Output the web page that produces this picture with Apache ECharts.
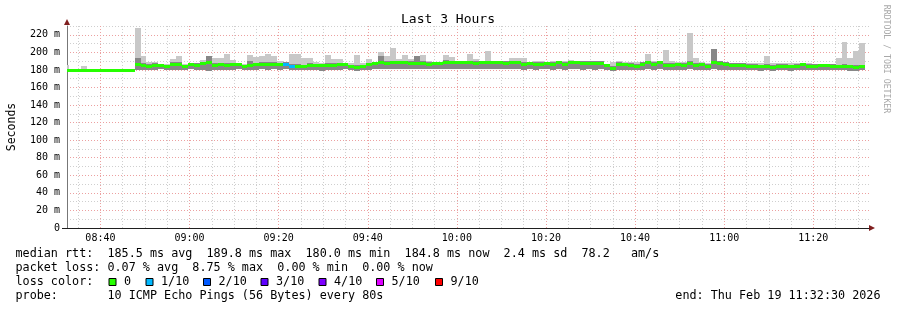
<!DOCTYPE html>
<html><head><meta charset="utf-8">
<script src="https://cdn.jsdelivr.net/npm/echarts@6/dist/echarts.min.js"></script>
<style>html,body{margin:0;padding:0;background:#fff}#c{width:897px;height:310px}</style>
</head><body><div id="c"></div>
<script>
// ---------------- data ----------------
const stepSeconds = 80;
const firstStepStart = '08:31:40';
const axisStart = '08:32:30';
const axisEnd = '11:32:30';
const timeLabels = ['08:40','09:00','09:20','09:40','10:00','10:20','10:40','11:00','11:20'];
const yLabelValues = [0,20,40,60,80,100,120,140,160,180,200,220];

const medianRtt = [180,180,180,180,180,180,180,180,180,180,180,180,
 186.5,185.3,184.6,185.7,185.3,184.6,186.5,186.5,184.2,186.5,
 185.7,188.0,188.7,185.7,186.5,185.7,186.5,186.8,184.2,185.7,
 186.5,186.8,186.8,187.2,186.5,187.0,184.0,184.9,184.2,185.7,
 185.3,185.7,185.7,185.7,186.5,187.2,184.2,183.4,184.2,186.5,
 188.0,188.7,188.0,188.7,188.7,188.7,188.0,188.0,188.0,187.2,
 188.0,188.0,189.5,188.7,188.7,188.7,188.7,188.0,188.7,188.7,
 188.7,188.7,188.0,188.7,188.7,186.5,188.0,186.5,187.2,188.0,
 186.5,188.7,187.2,188.7,189.0,188.0,188.0,188.0,188.0,185.7,
 181.9,186.5,186.5,185.7,184.9,187.2,188.7,187.2,188.7,185.7,
 185.7,186.5,185.7,188.0,185.7,186.5,184.9,188.7,188.0,187.2,
 185.7,185.7,185.7,184.9,184.9,184.2,184.9,183.4,184.9,184.9,
 184.2,184.9,186.5,184.9,184.9,185.7,185.7,184.9,184.2,184.2,
 184.2,183.4,184.2];

const maxRtt = [186,180,180,184,180,180,180,180,180,180,180,180,
 228,196,189,189.5,187,187,192,195.6,187,188,
 188,191.4,195.6,193,193,198,191,188,187,197,
 195,195.6,198,195.6,190,189.5,198,198,194,194,
 189,188,197,192.5,192.5,188,188,197,188,192,
 189.5,200,195.6,205.5,192,197,192,195.6,197,190.5,
 189.5,189.5,197,194.7,190.5,190.5,198.6,192.5,190.5,201.7,
 190.5,190,190,194,194,194,189.5,190,190,188.7,
 190,190,190,190.8,190,190,190,190,190,186.5,
 188.7,190,188.7,188.7,189.5,188.7,198.6,190,190,202.4,
 190,188.7,188.7,221.5,193,189.5,188,204,190,188.7,
 188,188,188,188,188,188,195.6,188,188,188,
 188,188,188,188,186.5,186.5,186.5,186.5,194,212,
 194,202,211];

const upperQuartRtt = [180,180,180,180,180,180,180,180,180,180,180,180,
 193,188,187,187.5,186.5,186,188.5,189,186,188,
 187.5,189.5,195.6,188,188,188,188,188,186,190,
 188,189,189,189,188,188.5,187,187,186,187.5,
 187,187,188,187.5,188,188,186,185.5,186,188,
 189.5,195.6,190,190.5,190.5,190.5,190,195.6,190,189,
 189.5,189.5,191,190.5,190,190,190.5,190,190.5,190.5,
 190.5,190,190,190.5,190.5,188.5,189.5,188.5,189,188.7,
 188.5,190,189,190.5,190,190,190,190,190,186.5,
 185,188.5,188,187.5,187,188.7,190.5,189,190,187.5,
 187.5,188,187.5,190,187.5,188,187,204,190,188.7,
 187.5,187.5,187.5,187,187,186,187,185.5,187,187,
 186,187,188,187,186.5,186.5,186.5,186.5,186,186.5,
 186,185.5,186];

const minRtt = [180,180,180,180,180,180,180,180,180,180,180,180,
 179.5,180,179.5,180,180.5,179.5,180,179.5,179.5,180.5,
 180,180,179,179.5,180,179.5,180,180.5,179.5,179.5,
 180,180.5,179.5,180.5,180,180.5,179.5,179.5,179.5,180,
 179.5,179,179.5,179.5,179.5,180.5,179.5,179,179.5,180,
 180.5,181,180.5,180.5,181,181,180.5,180.5,181,180.5,
 180.5,181,181.5,181,180.5,181,181,180.5,181.5,181,
 181,180.5,181,180.5,180.5,180,180.5,180,180.5,180.5,
 180,180.5,180,180.5,180.5,180,180.5,180,180.5,179.5,
 179,179.5,179.5,179.5,179.5,180,180.5,180,180.5,179.5,
 179.5,180,179.5,180.5,179.5,180,179.5,180.5,180,179.5,
 179.5,179.5,179.5,179.5,179.5,179,179.5,179,179.5,179.5,
 179,179.5,179.5,179.5,179.5,179.5,179.5,179.5,179.5,179.5,
 179,179,179.5];

const lossTenths = [0,0,0,0,0,0,0,0,0,0,0,0,
 0,0,0,0,0,0,0,0,0,0,
 0,0,0,0,0,0,0,0,0,0,
 0,0,0,0,0,1,1,0,0,0,
 0,0,0,0,0,0,0,0,0,0,
 0,0,0,0,0,0,0,0,0,0,
 0,0,0,0,0,0,0,0,0,0,
 0,0,0,0,0,0,0,0,0,0,
 0,0,0,0,0,0,0,0,0,0,
 0,0,0,0,0,0,0,0,0,0,
 0,0,0,0,0,0,0,0,0,0,
 0,0,0,0,0,0,0,0,0,0,
 0,0,0,0,0,0,0,0,0,0,
 0,0,0];

const lossLegendLabels = ['0','1/10','2/10','3/10','4/10','5/10','9/10'];
const lossLegendKeys = [0,1,2,3,4,5,9];
const lossColors = {0:'#26ff00',1:'#00b8ff',2:'#0059ff',3:'#5e00ff',4:'#7e00ff',5:'#dd00ff',9:'#ff0000'};

const legendLine1 = 'median rtt:  185.5 ms avg  189.8 ms max  180.0 ms min  184.8 ms now  2.4 ms sd  78.2   am/s';
const legendLine2 = 'packet loss: 0.07 % avg  8.75 % max  0.00 % min  0.00 % now';
const legendLine3 = 'loss color:';
const legendLine4 = 'probe:       10 ICMP Echo Pings (56 Bytes) every 80s';
const endText = 'end: Thu Feb 19 11:32:30 2026';
const titleText = 'Last 3 Hours';
const yAxisTitle = 'Seconds';
const watermark = 'RRDTOOL / TOBI OETIKER';

// ---------------- helpers ----------------
function toSec(s){const p=s.split(':').map(Number);return p[0]*3600+p[1]*60+(p[2]||0);}
function fmt(sec){const h=Math.floor(sec/3600),m=Math.floor((sec%3600)/60);return String(h).padStart(2,'0')+':'+String(m).padStart(2,'0');}
const t0 = toSec(firstStepStart), xMin = toSec(axisStart), xMax = toSec(axisEnd);
const FONT = 'DejaVu Sans Mono';
const LEG = '11.75px ' + FONT;

const rows = medianRtt.map((m,i)=>[t0+i*stepSeconds, minRtt[i], upperQuartRtt[i], maxRtt[i], m, lossTenths[i]]);

function xSpan(params, api, t){
  const cs = params.coordSys;
  let a = Math.round(api.coord([t,0])[0]);
  let b = Math.round(api.coord([t+stepSeconds,0])[0]);
  a = Math.max(a, cs.x); b = Math.min(b, cs.x+cs.width);
  return [a,b];
}
function yPix(api, v){ return Math.round(api.coord([xMin, v])[1]); }

function renderSmoke(params, api){
  const [a,b] = xSpan(params, api, api.value(0));
  if (b<=a) return;
  const yLo = yPix(api, api.value(1)), yQ = yPix(api, api.value(2)), yHi = yPix(api, api.value(3));
  return {type:'group', children:[
    {type:'rect', shape:{x:a,y:yHi,width:b-a,height:Math.max(0,yQ-yHi)}, style:{fill:'#c8c8c8'}},
    {type:'rect', shape:{x:a,y:yQ,width:b-a,height:Math.max(0,yLo-yQ)}, style:{fill:'#878787'}}
  ]};
}
function renderMedian(params, api){
  const [a,b] = xSpan(params, api, api.value(0));
  if (b<=a) return;
  const y = yPix(api, api.value(4));
  return {type:'rect', shape:{x:a,y:y-1,width:b-a,height:3}, style:{fill:lossColors[api.value(5)]}};
}

// vertical grid lines every 5 minutes
const vLines = [];
for (let s = Math.ceil(xMin/300)*300; s < xMax; s += 300) {
  const lab = fmt(s), major = timeLabels.indexOf(lab) >= 0;
  vLines.push({xAxis:s, lineStyle:{color: major ? '#eca0a0' : '#cfcfcf', type:[1,2], width:1},
    label:{show:major, formatter:lab}});
}

// legend graphics
const graphics = [
  {type:'text', x:448, y:20, style:{text:titleText, font:'13px '+FONT, fill:'#000', align:'center', verticalAlign:'middle'}},
  {type:'text', x:12, y:127, rotation:Math.PI/2, style:{text:yAxisTitle, font:'11.5px '+FONT, fill:'#000', align:'center', verticalAlign:'middle'}},
  {type:'text', x:886, y:59, rotation:-Math.PI/2, style:{text:watermark, font:'8.2px '+FONT, fill:'#a8a8a8', align:'center', verticalAlign:'middle'}},
  {type:'polygon', shape:{points:[[64,25],[70,25],[67,19]]}, style:{fill:'#801f1f'}},
  {type:'polygon', shape:{points:[[869,225],[869,231],[875,228]]}, style:{fill:'#801f1f'}},
  {type:'line', shape:{x1:62,y1:228.5,x2:67,y2:228.5}, style:{stroke:'#1f1f1f', lineWidth:1}},
  {type:'text', x:15.5, y:254, style:{text:legendLine1, font:LEG, fill:'#000', verticalAlign:'middle'}},
  {type:'text', x:15.5, y:268, style:{text:legendLine2, font:LEG, fill:'#000', verticalAlign:'middle'}},
  {type:'text', x:15.5, y:282, style:{text:legendLine3, font:LEG, fill:'#000', verticalAlign:'middle'}},
  {type:'text', x:15.5, y:296, style:{text:legendLine4, font:LEG, fill:'#000', verticalAlign:'middle'}},
  {type:'text', x:880.5, y:296, style:{text:endText, font:LEG, fill:'#000', align:'right', verticalAlign:'middle'}}
];
const boxX = [108.5,145.5,203,260.5,318.5,376,435];
lossLegendKeys.forEach((k,i)=>{
  graphics.push({type:'rect', shape:{x:boxX[i]+0.5,y:278.5,width:7,height:7}, style:{fill:lossColors[k], stroke:'#000', lineWidth:1}});
  graphics.push({type:'text', x:boxX[i]+15.5, y:282, style:{text:lossLegendLabels[i], font:LEG, fill:'#000', verticalAlign:'middle'}});
});

const chart = echarts.init(document.getElementById('c'), null, {renderer:'canvas'});
chart.setOption({
  animation:false,
  backgroundColor:'#ffffff',
  grid:{left:67, right:28, top:26, bottom:82, containLabel:false},
  xAxis:{type:'value', min:xMin, max:xMax,
    axisLine:{show:true, onZero:false, lineStyle:{color:'#1f1f1f', width:1}},
    axisTick:{show:false}, axisLabel:{show:false}, splitLine:{show:false}},
  yAxis:{type:'value', min:0, max:230, interval:10,
    axisLine:{show:true, lineStyle:{color:'#777', width:1}},
    axisTick:{show:false},
    axisLabel:{margin:7, fontSize:10, fontFamily:FONT, color:'#000',
      formatter:v=> (yLabelValues.indexOf(v)>=0 ? (v===0?'0':v+' m') : '')},
    splitLine:{show:true, lineStyle:{color:['#eca0a0','#cfcfcf'], type:[1,2], width:1}}},
  series:[
    {type:'line', data:[], z:0, silent:true,
     markLine:{silent:true, z:0, symbol:['none','none'], animation:false,
       label:{position:'start', distance:5, fontSize:10, fontFamily:FONT, color:'#000'},
       data:vLines}},
    {type:'custom', z:2, data:rows, renderItem:renderSmoke, encode:{x:0, y:[1,2,3]}, silent:true},
    {type:'custom', z:3, data:rows, renderItem:renderMedian, encode:{x:0, y:4}, silent:true}
  ],
  graphic:graphics
});
</script></body></html>
